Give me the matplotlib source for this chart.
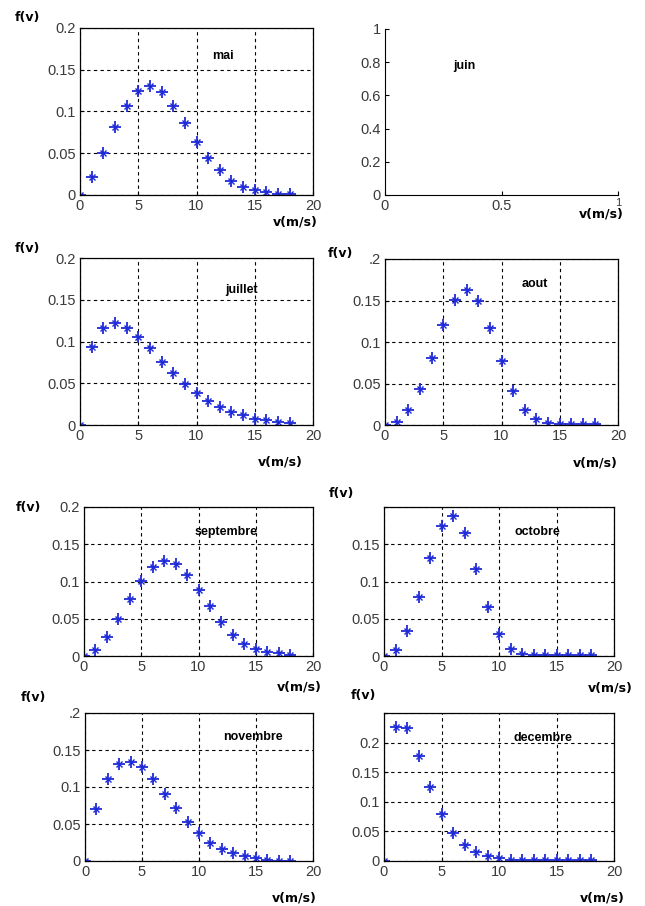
import matplotlib
matplotlib.use("Agg")
from matplotlib import pyplot as plt

W, H = 645, 906

v = list(range(19))

mai = [0, 0.021, 0.050, 0.082, 0.107, 0.124, 0.130, 0.123, 0.107, 0.086,
       0.064, 0.044, 0.030, 0.017, 0.010, 0.0056, 0.003, 0.0016, 0.0015]
juillet = [0, 0.094, 0.116, 0.122, 0.116, 0.105, 0.092, 0.076, 0.062, 0.049,
           0.038, 0.029, 0.022, 0.016, 0.012, 0.0076, 0.006, 0.0032, 0.002]
aout = [0, 0.004, 0.018, 0.043, 0.081, 0.120, 0.151, 0.163, 0.150, 0.117,
        0.077, 0.041, 0.018, 0.007, 0.003, 0.001, 0.001, 0.001, 0.001]
septembre = [0, 0.0085, 0.026, 0.050, 0.076, 0.101, 0.119, 0.127, 0.124, 0.109,
             0.089, 0.067, 0.046, 0.028, 0.0165, 0.009, 0.005, 0.0036, 0.002]
octobre = [0, 0.0085, 0.034, 0.079, 0.131, 0.174, 0.1875, 0.165, 0.1165, 0.0656,
           0.0295, 0.0094, 0.003, 0.001, 0.001, 0.001, 0.001, 0.001, 0.001]
novembre = [0, 0.0705, 0.111, 0.131, 0.134, 0.127, 0.111, 0.091, 0.072, 0.053,
            0.038, 0.0245, 0.0164, 0.0105, 0.0064, 0.0036, 0.0018, 0.0005, 0.0005]
decembre = [0, 0.227, 0.224, 0.177, 0.125, 0.080, 0.048, 0.0275, 0.0152, 0.0084,
            0.0045, 0.001, 0.001, 0.001, 0.001, 0.001, 0.001, 0.001, 0.001]

yticks = [0, 0.05, 0.1, 0.15, 0.2]
ylabels = ['0', '0.05', '0.1', '0.15', '0.2']
xticks = [0, 5, 10, 15, 20]

blue = '#1f2ad8'
tickfont = dict(family='Liberation Sans', size=10.5, color='#3a3a3a')
boldfont = dict(family='Liberation Sans', weight='bold', size=9)
labelfont = dict(family='DejaVu Sans', weight='bold', size=9)


def px_axes(fig, l, t, r, b):
    return fig.add_axes([l / W, 1 - b / H, (r - l) / W, (b - t) / H])


def month_panel(fig, box, data, name, name_xy, ylim=0.2, ylab=None, yt=None):
    ax = px_axes(fig, *box)
    # matlab '*' marker: a plus with short diagonals
    ax.plot(v, data, linestyle='none', marker='+', ms=8, mew=1.3, color=blue)
    ax.plot(v, data, linestyle='none', marker='x', ms=4.5, mew=1.0, color=blue)
    ax.set_xlim(0, 20)
    ax.set_ylim(0, ylim)
    ax.set_xticks(xticks)
    ax.set_xticklabels([str(x) for x in xticks], fontdict=tickfont)
    yt = yt or yticks
    ax.set_yticks(yt)
    ax.set_yticklabels(ylab or ylabels, fontdict=tickfont)
    ax.tick_params(direction='in', length=3, width=0.8, pad=3)
    ax.grid(True, color='black', linestyle=(0, (3, 3)), linewidth=0.8)
    for s in ax.spines.values():
        s.set_linewidth(0.9)
    ax.text(name_xy[0], name_xy[1], name, ha='center', va='center', **boldfont)
    return ax


fig = plt.figure(figsize=(W / 100, H / 100), dpi=100)

month_panel(fig, (80, 28, 313, 195), mai, 'mai', (12.3, 0.166))
month_panel(fig, (80, 258, 313, 425), juillet, 'juillet', (13.9, 0.162))
month_panel(fig, (385, 259, 618, 425), aout, 'aout', (12.9, 0.170),
            ylab=['0', '0.05', '0.1', '0.15', '.2'])
month_panel(fig, (84, 507, 313, 656), septembre, 'septembre', (12.4, 0.167))
month_panel(fig, (384, 507, 614, 656), octobre, 'octobre', (13.3, 0.166),
            ylab=['0', '0.05', '0.1', '0.15', ''])
month_panel(fig, (85, 713, 313, 861), novembre, 'novembre', (14.7, 0.167),
            ylab=['0', '0.05', '0.1', '0.15', '.2'])
month_panel(fig, (384, 713, 614, 861), decembre, 'decembre', (13.8, 0.207),
            ylim=0.25, yt=[0, 0.05, 0.1, 0.15, 0.2, 0.25],
            ylab=['0', '0.05', '0.1', '0.15', '0.2', ''])

# juin: empty axes, box off
ax = px_axes(fig, 385, 29, 618, 195)
ax.set_xlim(0, 1)
ax.set_ylim(0, 1)
ax.set_xticks([0, 0.5, 1])
ax.set_xticklabels(['0', '0.5', ''], fontdict=tickfont)
ax.set_yticks([0, 0.2, 0.4, 0.6, 0.8, 1])
ax.set_yticklabels(['0', '0.2', '0.4', '0.6', '0.8', '1'], fontdict=tickfont)
ax.tick_params(direction='in', length=3, width=0.8, pad=3)
ax.spines['top'].set_visible(False)
ax.spines['right'].set_visible(False)
ax.text(0.34, 0.78, 'juin', ha='center', va='center', **boldfont)
# the "1" under the x axis is small and raised in the original
ax.text(1, -0.05, '1', ha='center', va='center', transform=ax.transAxes,
        family='Liberation Sans', size=8, color='#3a3a3a')

# f(v) labels
for x, y in [(27, 17), (27, 248), (340, 253), (28, 507), (341, 493), (33, 697), (363, 695)]:
    fig.text(x / W, 1 - y / H, 'f(v)', ha='center', va='center', **labelfont)

# v(m/s) labels
for x, y in [(295, 222), (601, 214), (280, 462), (595, 463), (299, 687),
             (610, 688), (294, 898), (602, 898)]:
    fig.text(x / W, 1 - y / H, 'v(m/s)', ha='center', va='center', **labelfont)

fig.savefig('out.png', dpi=100)
